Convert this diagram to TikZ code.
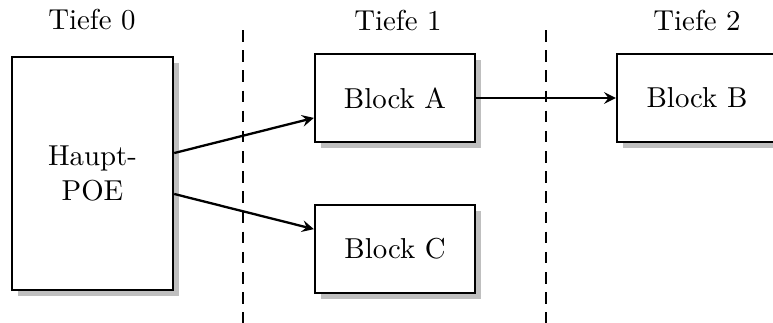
\documentclass[tikz,border=0pt]{standalone}
\usepackage{tikz}
\usetikzlibrary{shadows}

\tikzset{
  blockbox/.style={draw,thick,fill=white,minimum width=55.5pt,minimum height=30.5pt,
    drop shadow={shadow xshift=2pt,shadow yshift=-2pt,fill=black!25,opacity=1}},
  mainbox/.style={blockbox,minimum width=55.9pt,minimum height=80.9pt,align=center},
  levelline/.style={thick,dashed,dash pattern=on 4pt off 3pt}
}

\begin{document}
\begin{tikzpicture}[>=stealth,x=0.347pt,y=-0.347pt]
                        \useasboundingbox (0,0) rectangle (773,322);
                        % levels
                        \node (tiefe0) at (92,20) {Tiefe 0};
                        \node (tiefe1) at (398,20) {Tiefe 1};
                        \node (tiefe2) at (697,20) {Tiefe 2};
                        \draw[levelline] (243,30) -- (243,330);
                        \draw[levelline] (546,30) -- (546,330);
                        % blocks
                        \node[mainbox] (haupt) at (92.5,173.5) {Haupt-\\POE};
                        \node[blockbox] (blockA) at (395,98) {Block A};
                        \node[blockbox] (blockB) at (697,98) {Block B};
                        \node[blockbox] (blockC) at (395,249) {Block C};
                        % calls
                        \draw[->,thick] ([yshift=7.1pt]haupt.east) -- ([yshift=-6.9pt]blockA.west);
                        \draw[->,thick] ([yshift=-7.1pt]haupt.east) -- ([yshift=6.9pt]blockC.west);
                        \draw[->,thick] (blockA) -- (blockB);
                    \end{tikzpicture}
\end{document}
